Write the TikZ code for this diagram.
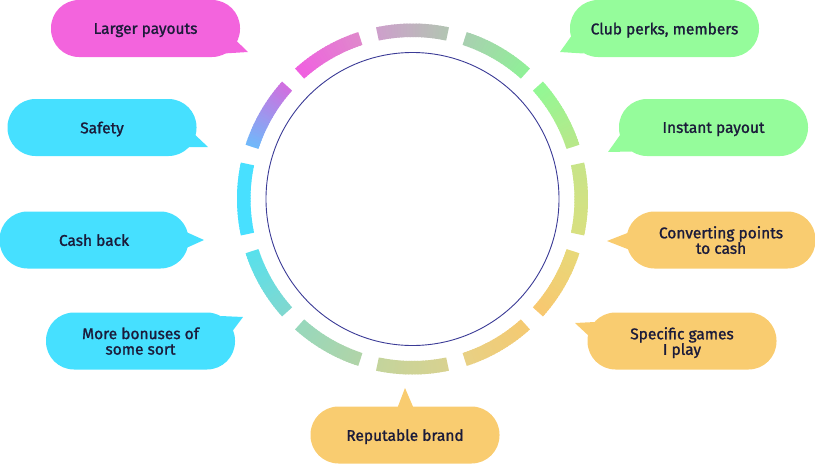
\documentclass[tikz,border=0pt]{standalone}
\usepackage{fontspec}
\setmainfont{Fira Sans}
\newfontfamily\calloutfont{Fira Sans}[FakeBold=1.3]
\usetikzlibrary{calc}
\definecolor{magC}{HTML}{F364DD}
\definecolor{cyanC}{HTML}{46E0FF}
\definecolor{greenC}{HTML}{95FC9B}
\definecolor{orangeC}{HTML}{F9CC70}
\definecolor{txtC}{HTML}{1B1B3A}
\definecolor{innerC}{HTML}{3B3B96}
\tikzset{
  callout/.style={rectangle, rounded corners=28pt, minimum width=189pt, minimum height=57pt,
    inner sep=0pt, align=center, text=txtC, text depth=0pt, font=\calloutfont\fontsize{15.5}{15.5}\selectfont}
}
\begin{document}
\begin{tikzpicture}[x=1pt,y=-1pt]
\useasboundingbox (0,0) rectangle (815,464);
% ring
\begin{scope}[shift={(412.5,199)},yscale=-1]
\foreach \c/\s/\e in {90/CDA0CB/B3C4B3, 60/A8D0B0/90F098, 30/92F895/B8E88A, 0/C8E488/D8E080,
  -30/E8D878/F8C870, -60/F4CA72/E8D084, -90/D8D290/C4D49C, -120/B0D4A8/98D8BC,
  -150/80D8D0/58E0EC, 180/48E0FF/48E0FF, 150/70B8FA/D070E0, 120/F060E0/E088CC}{
  \definecolor{segS}{HTML}{\s}
  \definecolor{segE}{HTML}{\e}
  \foreach \i in {0,...,23}{
    \pgfmathsetmacro{\p}{100-\i*100/23}
    \pgfmathsetmacro{\a}{\c+12-\i}
    \pgfmathsetmacro{\b}{max(\c-12,\a-1.4)}
    \colorlet{cc}{segS!\p!segE}
    \fill[cc] (\a:175.5) arc[start angle=\a, end angle=\b, radius=175.5]
      -- (\b:162) arc[start angle=\b, end angle=\a, radius=162] -- cycle;
  }
}
\node[circle, draw=innerC, line width=0.9pt, minimum size=293pt, inner sep=0pt] (inner) at (0,0) {};
\end{scope}
% callouts
\node[callout, fill=magC] (lp) at (145.5,28.5) {Larger payouts};
\coordinate (lpTip) at (248,52);
\fill[magC] ([shift={(88,9.5)}]lp.center) -- (lpTip) -- ([shift={(78,25)}]lp.center) -- cycle;

\node[callout, fill=cyanC] (sf) at (102,127.5) {Safety};
\coordinate (sfTip) at (208,147);
\fill[cyanC] ([shift={(88,2.5)}]sf.center) -- (sfTip) -- ([shift={(84,19.5)}]sf.center) -- cycle;

\node[callout, fill=cyanC] (cb) at (94,240) {Cash back};
\coordinate (cbTip) at (204,240);
\fill[cyanC] ([shift={(90,-9)}]cb.center) -- (cbTip) -- ([shift={(90,9)}]cb.center) -- cycle;

\node[callout, fill=cyanC] (mb) at (140.5,341) {More bonuses of\\some sort};
\coordinate (mbTip) at (243,317);
\fill[cyanC] ([shift={(80,-25)}]mb.center) -- (mbTip) -- ([shift={(92,-10)}]mb.center) -- cycle;

\node[callout, fill=orangeC] (rb) at (405,435) {Reputable brand};
\coordinate (rbTip) at (405,388);
\fill[orangeC] ([shift={(-8,-26)}]rb.center) -- (rbTip) -- ([shift={(9,-26)}]rb.center) -- cycle;

\node[callout, fill=orangeC] (sg) at (682,341) {Specific games\\I play};
\coordinate (sgTip) at (575,323);
\fill[orangeC] ([shift={(-87,-19)}]sg.center) -- (sgTip) -- ([shift={(-92,-4)}]sg.center) -- cycle;

\node[callout, fill=orangeC] (cp) at (721,240) {Converting points\\to cash};
\coordinate (cpTip) at (607,241);
\fill[orangeC] ([shift={(-91,-8)}]cp.center) -- (cpTip) -- ([shift={(-91,10)}]cp.center) -- cycle;

\node[callout, fill=greenC] (ip) at (713.5,127.5) {Instant payout};
\coordinate (ipTip) at (608,152);
\fill[greenC] ([shift={(-92,5.5)}]ip.center) -- (ipTip) -- ([shift={(-82,24)}]ip.center) -- cycle;

\node[callout, fill=greenC] (cl) at (664.5,28.5) {Club perks, members};
\coordinate (clTip) at (560,52);
\fill[greenC] ([shift={(-91,4.5)}]cl.center) -- (clTip) -- ([shift={(-81,25)}]cl.center) -- cycle;
\end{tikzpicture}
\end{document}
